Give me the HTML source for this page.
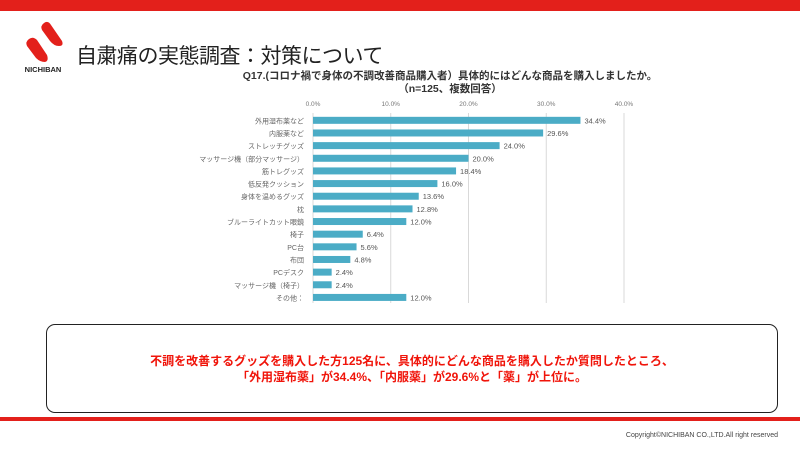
<!DOCTYPE html>
<html><head><meta charset="utf-8">
<style>
*{margin:0;padding:0;box-sizing:border-box}
body{width:800px;height:450px;background:#fff;position:relative;overflow:hidden;font-family:"Liberation Sans","Noto Sans CJK JP",sans-serif}
.abs{position:absolute}
</style></head>
<body>
<div class="abs" style="left:0;top:0;width:800px;height:11px;background:#e3201b"></div>
<svg class="abs" style="left:0;top:0" width="80" height="80" viewBox="0 0 80 80">
<path d="M44 23 Q48 20 51 25 L62 41 Q64 46 59 46 Q54 46 50 41 L42 30 Q40 26 44 23 Z" fill="#e3201b"/>
<path d="M29 39 Q33 36 37 40 L47 55 Q49 61 45 62 Q40 62 36 58 L27 46 Q25 42 29 39 Z" fill="#e3201b"/>
<text x="43" y="72" text-anchor="middle" font-size="7.5" font-weight="bold" fill="#222" font-family="Liberation Sans,sans-serif">NICHIBAN</text>
</svg>
<div class="abs" style="left:76px;top:40px;font-size:21px;color:#222;letter-spacing:-0.5px">自粛痛の実態調査：対策について</div>
<div class="abs" style="left:180px;top:70px;width:540px;text-align:center;font-size:10.5px;line-height:13px;color:#333;font-weight:bold">Q17.(コロナ禍で身体の不調改善商品購入者）具体的にはどんな商品を購入しましたか。<br>（n=125、複数回答）</div>
<svg class="abs" id="chart" style="left:0;top:0" width="800" height="320"></svg>
<div class="abs" style="left:46px;top:324px;width:732px;height:89px;border:1.5px solid #222;border-radius:9px"></div>
<div class="abs" style="left:46px;top:353px;width:732px;text-align:center;color:#f0140a;font-size:12px;font-weight:bold;line-height:16px">不調を改善するグッズを購入した方125名に、具体的にどんな商品を購入したか質問したところ、<br>「外用湿布薬」が34.4%、「内服薬」が29.6%と「薬」が上位に。</div>
<div class="abs" style="left:0;top:417px;width:800px;height:4px;background:#e3201b"></div>
<div class="abs" style="right:22px;top:432px;font-size:7px;color:#444">Copyright©NICHIBAN CO.,LTD.All right reserved</div>
<script>
const categories=["外用湿布薬など","内服薬など","ストレッチグッズ","マッサージ機（部分マッサージ）","筋トレグッズ","低反発クッション","身体を温めるグッズ","枕","ブルーライトカット眼鏡","椅子","PC台","布団","PCデスク","マッサージ機（椅子）","その他："];
const values=[34.4,29.6,24.0,20.0,18.4,16.0,13.6,12.8,12.0,6.4,5.6,4.8,2.4,2.4,12.0];
const ticks=[0,10,20,30,40];
const svg=document.getElementById('chart');
const NS='http://www.w3.org/2000/svg';
const x0=313,x1=624,xMax=40;
const xs=v=>x0+(v/xMax)*(x1-x0);
const yTop=114,rowH=12.65;
const yc=i=>yTop+rowH*i+rowH/2;
function mk(tag,attrs){const e=document.createElementNS(NS,tag);for(const k in attrs)e.setAttribute(k,attrs[k]);svg.appendChild(e);return e;}
ticks.forEach(t=>{
 const g=mk('line',{x1:xs(t),x2:xs(t),y1:113,y2:303,stroke:'#d9d9d9','stroke-width':1});
 
 
 const l=mk('text',{x:xs(t),y:106,'text-anchor':'middle','font-size':6.5,fill:'#777'});
 l.textContent=t.toFixed(1)+'%';
 
 
});
values.forEach((v,i)=>{
 const b=mk('rect',{x:x0,y:yc(i)-3.5,width:xs(v)-x0,height:7,fill:'#4bacc6'});
 
 
 const vl=mk('text',{x:xs(v)+4,y:yc(i)+3,'font-size':7.5,fill:'#555'});
 vl.textContent=v.toFixed(1)+'%';
 
 
 const cl=mk('text',{x:x0-9,y:yc(i)+3,'text-anchor':'end','font-size':7,fill:'#666'});
 cl.textContent=categories[i];
 
 
});
</script>
</body></html>
